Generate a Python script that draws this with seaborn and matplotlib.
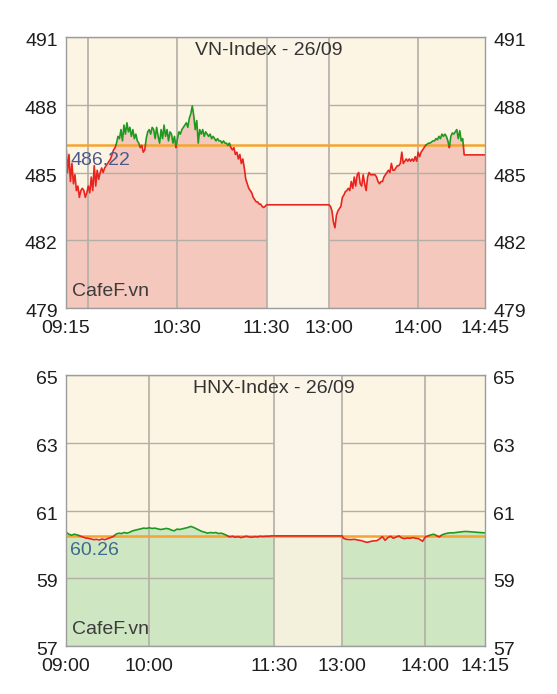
import numpy as np
import pandas as pd
import matplotlib
matplotlib.use("Agg")
import matplotlib.pyplot as plt
import seaborn as sns
from matplotlib.transforms import ScaledTranslation

# ---------------- VN-Index data ----------------
vn_title = "VN-Index - 26/09"
vn_ref = 486.22
vn_ref_label = "486.22"
vn_times = [
    "09:15", "09:16", "09:17", "09:18", "09:19", "09:20", "09:21", "09:22", "09:23", "09:24",
    "09:25", "09:26", "09:27", "09:28", "09:29", "09:30", "09:31", "09:32", "09:33", "09:34",
    "09:35", "09:36", "09:37", "09:38", "09:39", "09:40", "09:41", "09:42", "09:43", "09:44",
    "09:45", "09:46", "09:47", "09:48", "09:49", "09:50", "09:51", "09:52", "09:53", "09:54",
    "09:55", "09:56", "09:57", "09:58", "09:59", "10:00", "10:01", "10:02", "10:03", "10:04",
    "10:05", "10:06", "10:07", "10:08", "10:09", "10:10", "10:11", "10:12", "10:13", "10:14",
    "10:15", "10:16", "10:17", "10:18", "10:19", "10:20", "10:21", "10:22", "10:23", "10:24",
    "10:25", "10:26", "10:27", "10:28", "10:29", "10:30", "10:31", "10:32", "10:33", "10:34",
    "10:35", "10:36", "10:37", "10:38", "10:39", "10:40", "10:41", "10:42", "10:43", "10:44",
    "10:45", "10:46", "10:47", "10:48", "10:49", "10:50", "10:51", "10:52", "10:53", "10:54",
    "10:55", "10:56", "10:57", "10:58", "10:59", "11:00", "11:01", "11:02", "11:03", "11:04",
    "11:05", "11:06", "11:07", "11:08", "11:09", "11:10", "11:11", "11:12", "11:13", "11:14",
    "11:15", "11:16", "11:17", "11:18", "11:19", "11:20", "11:21", "11:22", "11:23", "11:24",
    "11:25", "11:26", "11:27", "11:28", "11:29", "11:30",
    "13:00", "13:01", "13:02", "13:03", "13:04", "13:05", "13:06", "13:07", "13:08", "13:09",
    "13:10", "13:11", "13:12", "13:13", "13:14", "13:15", "13:16", "13:17", "13:18", "13:19",
    "13:20", "13:21", "13:22", "13:23", "13:24", "13:25", "13:26", "13:27", "13:28", "13:29",
    "13:30", "13:31", "13:32", "13:33", "13:34", "13:35", "13:36", "13:37", "13:38", "13:39",
    "13:40", "13:41", "13:42", "13:43", "13:44", "13:45", "13:46", "13:47", "13:48", "13:49",
    "13:50", "13:51", "13:52", "13:53", "13:54", "13:55", "13:56", "13:57", "13:58", "13:59",
    "14:00", "14:01", "14:02", "14:03", "14:04", "14:05", "14:06", "14:07", "14:08", "14:09",
    "14:10", "14:11", "14:12", "14:13", "14:14", "14:15", "14:16", "14:17", "14:18", "14:19",
    "14:20", "14:21", "14:22", "14:23", "14:24", "14:25", "14:26", "14:27", "14:28", "14:29",
    "14:30", "14:31", "14:45",
]
vn_values = [
    486.22, 485.0, 485.8, 484.6, 485.4, 484.5, 484.9, 484.2, 484.4, 483.9,
    484.2, 484.3, 484.2, 483.9, 484.1, 484.4, 484.1, 484.8, 484.2, 485.3,
    484.4, 485.1, 484.7, 485.0, 485.2, 485.0, 485.2, 485.3, 485.4, 485.5,
    485.6, 485.8, 486.0, 486.1, 486.3, 486.6, 486.5, 486.9, 486.4, 487.1,
    486.7, 487.2, 486.8, 487.0, 486.6, 486.9, 486.5, 486.7, 486.4, 486.3,
    486.1, 486.2, 485.9, 486.0, 486.5, 486.8, 486.9, 486.7, 487.0, 486.9,
    486.5, 487.0, 486.6, 486.3, 486.9, 486.5, 487.1, 486.6, 486.9, 486.4,
    486.8, 486.7, 486.3, 486.6, 486.1, 486.5, 486.8, 486.7, 486.9, 487.0,
    487.1, 487.2, 487.0, 487.4, 487.6, 487.95, 487.5, 486.9, 487.3, 486.3,
    486.9, 486.7, 486.9, 486.6, 486.8, 486.7, 486.6, 486.7, 486.5, 486.6,
    486.5, 486.4, 486.5, 486.4, 486.4, 486.3, 486.4, 486.3, 486.3, 486.2,
    486.3, 486.1, 486.0, 486.1, 485.8, 485.9, 485.6, 485.8, 485.4, 485.6,
    485.2, 484.7, 484.5, 484.3, 484.2, 484.1, 483.9, 483.8, 483.7, 483.7,
    483.6, 483.6, 483.5, 483.45, 483.5, 483.57,
    483.57, 483.5, 483.3, 482.8, 482.55, 483.1, 483.3, 483.4, 483.5, 483.9,
    484.0, 484.15, 484.2, 484.3, 484.2, 484.6, 484.3, 484.8, 484.4, 484.9,
    485.0, 484.5, 484.4, 484.9, 484.5, 484.2, 484.8, 485.0, 484.9, 484.9,
    484.9, 484.9, 484.8, 484.6, 484.5, 484.6, 484.6, 484.8, 484.9, 485.0,
    485.1, 485.0, 485.4, 485.1, 485.1, 485.2, 485.3, 485.3, 485.4, 485.9,
    485.4, 485.5, 485.6, 485.5, 485.6, 485.5, 485.6, 485.5, 485.7, 485.5,
    485.9, 485.7, 485.9, 486.0, 486.1, 486.2, 486.25, 486.3, 486.3, 486.35,
    486.4, 486.4, 486.5, 486.45, 486.6, 486.5, 486.7, 486.6, 486.7, 486.6,
    486.4, 486.1, 486.6, 486.75, 486.7, 486.8, 486.9, 486.5, 486.85, 486.4,
    486.5, 485.78, 485.78,
]
vn_session = ["09:15", "11:30", "13:00", "14:45"]   # open, am close, pm open, axis end
vn_lunch_width = 42                                  # compressed lunch width (minutes)
vn_xtick_times = ["09:15", "10:30", "11:30", "13:00", "14:00", "14:45"]
vn_xtick_labels = ["09:15", "10:30", "11:30", "13:00", "14:00", "14:45"]
vn_xgrid_times = ["09:30", "10:30", "11:30", "13:00", "14:00"]
vn_yticks = [479, 482, 485, 488, 491]

# ---------------- HNX-Index data ----------------
hnx_title = "HNX-Index - 26/09"
hnx_ref = 60.26
hnx_ref_label = "60.26"
hnx_times = [
    "09:00", "09:02", "09:04", "09:06", "09:08", "09:10", "09:12", "09:14", "09:16", "09:18",
    "09:20", "09:22", "09:24", "09:26", "09:28", "09:30", "09:32", "09:34", "09:36", "09:38",
    "09:40", "09:42", "09:44", "09:46", "09:48", "09:50", "09:52", "09:54", "09:56", "09:58",
    "10:00", "10:02", "10:04", "10:06", "10:08", "10:10", "10:12", "10:14", "10:16", "10:18",
    "10:20", "10:22", "10:24", "10:26", "10:28", "10:30", "10:32", "10:34", "10:36", "10:38",
    "10:40", "10:42", "10:44", "10:46", "10:48", "10:50", "10:52", "10:54", "10:56", "10:58",
    "11:00", "11:02", "11:04", "11:06", "11:08", "11:10", "11:12", "11:14", "11:16", "11:18",
    "11:20", "11:22", "11:24", "11:26", "11:28", "11:30",
    "13:00", "13:01", "13:03", "13:06", "13:09", "13:11", "13:14", "13:16", "13:18", "13:20",
    "13:22", "13:25", "13:27", "13:29", "13:31", "13:33", "13:35", "13:37", "13:39", "13:41",
    "13:43", "13:45", "13:47", "13:49", "13:51", "13:53", "13:55", "13:57", "13:58", "14:00",
    "14:02", "14:04", "14:06", "14:08", "14:10", "14:12", "14:14", "14:16", "14:18", "14:20",
    "14:22", "14:24", "14:26", "14:28", "14:30", "14:33", "14:36", "14:39", "14:43",
]
hnx_values = [
    60.36, 60.30, 60.27, 60.30, 60.28, 60.25, 60.22, 60.19, 60.18, 60.16,
    60.14, 60.15, 60.13, 60.16, 60.14, 60.17, 60.20, 60.23, 60.30, 60.33,
    60.32, 60.35, 60.33, 60.36, 60.40, 60.42, 60.44, 60.46, 60.48, 60.47,
    60.49, 60.47, 60.48, 60.46, 60.44, 60.45, 60.47, 60.46, 60.42, 60.40,
    60.45, 60.44, 60.46, 60.48, 60.50, 60.53, 60.50, 60.46, 60.42, 60.38,
    60.36, 60.33, 60.35, 60.34, 60.35, 60.32, 60.33, 60.30, 60.26, 60.22,
    60.24, 60.21, 60.23, 60.20, 60.22, 60.24, 60.22, 60.21, 60.23, 60.22,
    60.24, 60.23, 60.24, 60.24, 60.25, 60.25,
    60.25, 60.18, 60.15, 60.14, 60.15, 60.13, 60.11, 60.08, 60.06, 60.08,
    60.10, 60.11, 60.16, 60.23, 60.12, 60.20, 60.24, 60.18, 60.22, 60.25,
    60.19, 60.17, 60.19, 60.18, 60.20, 60.18, 60.17, 60.12, 60.09, 60.22,
    60.25, 60.28, 60.30, 60.26, 60.22, 60.28, 60.31, 60.33, 60.34, 60.34,
    60.35, 60.36, 60.37, 60.38, 60.38, 60.37, 60.36, 60.35, 60.34,
]
hnx_session = ["09:00", "11:30", "13:00", "14:43"]
hnx_lunch_width = 49
hnx_xtick_times = ["09:00", "10:00", "11:30", "13:00", "14:00", "14:43"]
hnx_xtick_labels = ["09:00", "10:00", "11:30", "13:00", "14:00", "14:15"]
hnx_xgrid_times = ["10:00", "11:30", "13:00", "14:00"]
hnx_yticks = [57, 59, 61, 63, 65]

# ---------------- styles ----------------
BG = "#fdf5e4"
LUNCH_BG = "#fbf5e9"
GRID = "#b3afa6"
SPINE = "#9c9c9c"
ORANGE = "#f4a430"
UP = "#1f9a1f"
DOWN = "#e8241e"
TXT = "#1e1e1e"
FONT = ["Liberation Sans", "DejaVu Sans"]
FS = 14


def minutes(t):
    h, m = t.split(":")
    return int(h) * 60 + int(m)


def make_mapper(session, lunch_width):
    o, ac, po, end = [minutes(s) for s in session]

    def f(t):
        m = minutes(t)
        if m <= ac:
            return m - o
        if m >= po:
            return (ac - o) + lunch_width + (m - po)
        return (ac - o) + lunch_width * (m - ac) / (po - ac)
    return f


def split_segments(x, v, ref):
    xs, vs = [x[0]], [v[0]]
    for i in range(1, len(x)):
        a, b = v[i - 1] - ref, v[i] - ref
        if a * b < 0:
            fr = a / (a - b)
            xs.append(x[i - 1] + fr * (x[i] - x[i - 1]))
            vs.append(ref)
        xs.append(x[i])
        vs.append(v[i])
    rows = []
    seg = -1
    prev_side = None
    for i in range(1, len(xs)):
        side = "up" if (vs[i - 1] + vs[i]) / 2 > ref else "down"
        if side != prev_side:
            seg += 1
            rows.append((seg, side, xs[i - 1], vs[i - 1]))
            prev_side = side
        rows.append((seg, side, xs[i], vs[i]))
    return pd.DataFrame(rows, columns=["seg", "side", "x", "v"])


def draw(ax, title, title_x, ref, ref_label, times, values, session, lunch_width,
         xtick_times, xtick_labels, xgrid_times, yticks, fill_color, lunch_fill, ref_color):
    fx = make_mapper(session, lunch_width)
    x = np.array([fx(t) for t in times], dtype=float)
    v = np.array(values, dtype=float)
    am_end = fx(session[1])
    pm_start = fx(session[2])
    xmax = fx(session[3])
    ymin, ymax = yticks[0], yticks[-1]

    ax.set_facecolor(BG)
    # lunch band covers the horizontal grid
    ax.axvspan(am_end, pm_start, color=LUNCH_BG, zorder=1.6, lw=0)

    am = x <= am_end
    pm = x >= pm_start
    ax.fill_between(x[am], v[am], ymin, color=fill_color, lw=0, zorder=1)
    ax.fill_between(x[pm], v[pm], ymin, color=fill_color, lw=0, zorder=1)
    if lunch_fill is not None:
        lu = (x >= am_end) & (x <= pm_start)
        ax.fill_between(x[lu], v[lu], ymin, color=lunch_fill, lw=0, zorder=1.65)

    ax.set_xlim(0, xmax)
    ax.set_ylim(ymin, ymax)
    ax.set_yticks(yticks)
    ax.set_xticks([fx(t) for t in xtick_times])
    ax.set_xticklabels(xtick_labels)
    ax.grid(False)
    ax.grid(True, which="major", axis="y", color=GRID, lw=1.0)
    ax.set_axisbelow("line")
    for t in xgrid_times:
        ax.axvline(fx(t), color=GRID, lw=1.2, zorder=1.7)

    ax.axhline(ref, color=ORANGE, lw=1.8, zorder=2)

    df = split_segments(x, v, ref)
    sns.lineplot(data=df, x="x", y="v", hue="side", units="seg", estimator=None,
                 sort=False, palette={"up": UP, "down": DOWN}, lw=1.2,
                 legend=False, ax=ax, zorder=3)
    ax.set_xlabel("")
    ax.set_ylabel("")

    ax.tick_params(axis="both", which="both", length=0, labelsize=FS, colors=TXT)
    ax.tick_params(axis="y", labelright=True, labelleft=True, pad=6)
    ax.tick_params(axis="x", pad=8.5)
    off = ScaledTranslation(0, -2.5 / 100, ax.figure.dpi_scale_trans)
    for tk in ax.yaxis.get_major_ticks():
        for lab in (tk.label1, tk.label2):
            lab.set_transform(lab.get_transform() + off)
            lab.set_fontfamily(FONT)
    for lab in ax.get_xticklabels():
        lab.set_fontfamily(FONT)

    for s in ax.spines.values():
        s.set_visible(True)
        s.set_color(SPINE)
        s.set_linewidth(1.0)
        s.set_zorder(4)

    ax.text(title_x, 0.952, title, transform=ax.transAxes, ha="center", va="center",
            fontsize=FS, color="#333333", family=FONT, zorder=5)
    ax.annotate(ref_label, xy=(0, ref), xycoords=("axes fraction", "data"),
                xytext=(3, -11), textcoords="offset points", ha="left", va="center",
                fontsize=FS, color=ref_color, family=FONT, zorder=5)
    ax.annotate("CafeF.vn", xy=(0, 0), xycoords="axes fraction", xytext=(4, 5.5),
                textcoords="offset points", ha="left", va="bottom",
                fontsize=FS, color="#3c3c3c", family=FONT, zorder=5)


sns.set_theme(style="white")
plt.rcParams["font.family"] = FONT

fig = plt.figure(figsize=(5.57, 6.94), dpi=100)
fig.patch.set_facecolor("white")
ax1 = fig.add_axes([66 / 557, 1 - 308 / 694, 419 / 557, 271 / 694])
ax2 = fig.add_axes([66 / 557, 1 - 646 / 694, 419 / 557, 271 / 694])

draw(ax1, vn_title, 0.483, vn_ref, vn_ref_label, vn_times, vn_values, vn_session,
     vn_lunch_width, vn_xtick_times, vn_xtick_labels, vn_xgrid_times, vn_yticks,
     "#f4c8bc", None, "#4a5a8e")
draw(ax2, hnx_title, 0.497, hnx_ref, hnx_ref_label, hnx_times, hnx_values, hnx_session,
     hnx_lunch_width, hnx_xtick_times, hnx_xtick_labels, hnx_xgrid_times, hnx_yticks,
     "#cfe6c2", "#f3f0dc", "#3f6a8c")

fig.savefig("out.png", dpi=100, facecolor="white")
